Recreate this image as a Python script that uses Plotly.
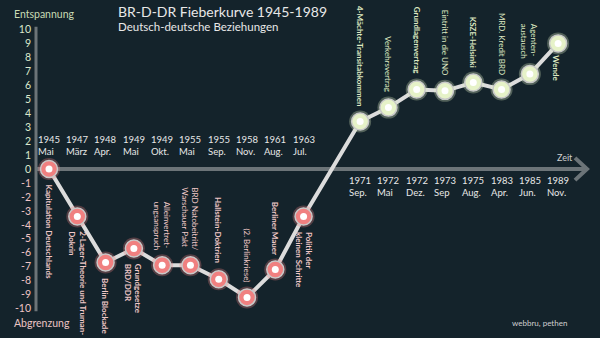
import plotly.graph_objects as go

# ---------------- data ----------------
years = ["1945", "1947", "1948", "1949", "1949", "1955", "1955", "1958", "1961", "1963",
         "1971", "1972", "1972", "1973", "1975", "1983", "1985", "1989"]
months = ["Mai", "März", "Apr.", "Mai", "Okt.", "Mai", "Sep.", "Nov.", "Aug.", "Jul.",
          "Sep.", "Mai", "Dez.", "Sep", "Aug.", "Apr.", "Jun.", "Nov."]
positions = [0, 1, 2, 3, 4, 5, 6, 7, 8, 9, 11, 12, 13, 14, 15, 16, 17, 18]
values = [0, -3.4, -6.7, -5.7, -6.9, -6.9, -7.9, -9.2, -7.2, -3.4,
          3.4, 4.4, 5.7, 5.6, 6.2, 5.7, 6.8, 9.0]
events = ["Kapitulation Deutschlands", "2-Lager-Theorie und Truman-<br>Dokrin", "Berlin Blockade",
          "Grundgesetze<br>BRD/DDR", "Alleinvertret-<br>ungsanspruch", "BRD Natobeitritt/<br>Warschauer Pakt",
          "Hallstein-Doktrien", "(2. Berlinkriese)", "Berliner Mauer", "Politik der<br>kleinen Schritte",
          "4-Mächte-Transitabkommen", "Verkehrsvertrag", "Grundlagenvertrag", "Eintritt in die UNO",
          "KSZE-Helsinki", "MRD. Kredit BRD", "Agenten-<br>austausch", "Wende"]
event_bold = [True, True, True, True, False, False, True, False, True, True,
              True, False, True, False, True, False, False, True]
event_below = [True, True, True, True, False, False, False, False, False, True,
               False, False, False, False, False, False, False, True]
y_ticks = list(range(-10, 11))

# ---------------- style ----------------
BG = "#14232b"
FONT = "Lato"
NEG = "#f08080"
POS = "#e6f2c8"
NEG_TXT = "#f2c9c9"
POS_TXT = "#dfe9c2"
AXIS = "#6c7478"

fig = go.Figure()

fig.add_trace(go.Scatter(x=positions, y=values, mode="lines",
                         line=dict(color="#dcdcdc", width=4), hoverinfo="skip"))
cols = [NEG if i < 10 else POS for i in range(len(values))]
fig.add_trace(go.Scatter(x=positions, y=values, mode="markers",
                         marker=dict(size=22, color=cols, opacity=0.3, line=dict(width=0)),
                         hoverinfo="skip"))
fig.add_trace(go.Scatter(x=positions, y=values, mode="markers",
                         marker=dict(size=17, color=cols, line=dict(color="#c9c9c9", width=1.5)),
                         hoverinfo="skip"))
fig.add_trace(go.Scatter(x=positions, y=values, mode="markers",
                         marker=dict(size=7, color="white", line=dict(width=0)),
                         hoverinfo="skip"))

ann = []
for i, (p, yr, mo) in enumerate(zip(positions, years, months)):
    first = i < 10
    ann.append(dict(x=p, y=0, xref="x", yref="y", text=f"{yr}<br>{mo}",
                    showarrow=False, align="left", font=dict(family=FONT, size=9.5, color="#e8e8e8"),
                    xanchor="center", yanchor="bottom" if first else "top",
                    yshift=10 if first else -4))
for i, (p, v, ev, b, below) in enumerate(zip(positions, values, events, event_bold, event_below)):
    color = NEG_TXT if i < 10 else POS_TXT
    txt = f"<b>{ev}</b>" if b else ev
    xs = 0
    if i == len(events) - 1:
        ys = -10
        xs = -3
    else:
        ys = -13 if below else 13
    ann.append(dict(x=p, y=v, xref="x", yref="y", text=txt, textangle=90,
                    showarrow=False, align="left", font=dict(family=FONT, size=8, color=color),
                    xanchor="center", yanchor="top" if below else "bottom", yshift=ys, xshift=xs))


def px(xp):
    return (xp - 36) / 564


def py(yp):
    return 1 - yp / 338


ann += [
    dict(x=px(116), y=py(12), xref="paper", yref="paper", text="BR-D-DR Fieberkurve 1945-1989",
         showarrow=False, xanchor="left", yanchor="middle", font=dict(family=FONT, size=14, color="#e8e8e8")),
    dict(x=px(116), y=py(27), xref="paper", yref="paper", text="Deutsch-deutsche Beziehungen",
         showarrow=False, xanchor="left", yanchor="middle", font=dict(family=FONT, size=11.5, color="#e8e8e8")),
    dict(x=px(12), y=py(14), xref="paper", yref="paper", text="Entspannung",
         showarrow=False, xanchor="left", yanchor="middle", font=dict(family=FONT, size=10.5, color="#c9dcb4")),
    dict(x=px(12), y=py(323), xref="paper", yref="paper", text="Abgrenzung",
         showarrow=False, xanchor="left", yanchor="middle", font=dict(family=FONT, size=10.5, color="#ecc3c3")),
    dict(x=px(575), y=py(158), xref="paper", yref="paper", text="Zeit",
         showarrow=False, xanchor="right", yanchor="middle", font=dict(family=FONT, size=9, color="#cfcfcf")),
    dict(x=px(569), y=py(323), xref="paper", yref="paper", text="webbru, pethen",
         showarrow=False, xanchor="right", yanchor="middle", font=dict(family=FONT, size=8, color="#cfcfcf")),
]

shapes = [
    dict(type="line", xref="paper", yref="y", x0=0, x1=px(586), y0=0, y1=0,
         line=dict(color=AXIS, width=4), layer="below"),
    dict(type="path", xref="paper", yref="y",
         path=f"M {px(575)},0.8 L {px(587)},0 L {px(575)},-0.8",
         line=dict(color=AXIS, width=4), layer="below"),
    dict(type="line", xref="paper", yref="y", x0=0, x1=0, y0=-10.2, y1=10.2,
         line=dict(color=AXIS, width=3), layer="below"),
]

tick_text = [f"<span style='color:{'#f0c4c4' if t < 0 else '#dbe8cc'}'>{t}</span>" for t in y_ticks]

fig.update_layout(
    width=600, height=338,
    margin=dict(l=36, r=0, t=0, b=0),
    paper_bgcolor=BG, plot_bgcolor=BG,
    showlegend=False,
    xaxis=dict(range=[-0.46, 19.48], visible=False, fixedrange=True),
    yaxis=dict(range=[-12.11, 12.11], tickvals=y_ticks, ticktext=tick_text,
               showgrid=False, zeroline=False, showline=False, ticks="",
               ticklabelstandoff=4, tickfont=dict(family=FONT, size=10.5)),
    annotations=ann, shapes=shapes,
)

fig.write_html("out.html")
